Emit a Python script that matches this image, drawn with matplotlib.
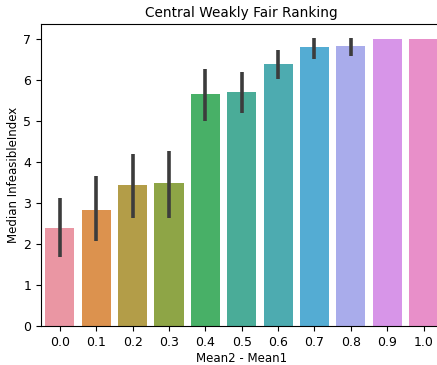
import matplotlib
matplotlib.use("Agg")
import matplotlib.pyplot as plt
import seaborn as sns

# Median infeasible index per mean gap, with 95% CI bounds
gaps = ["0.0", "0.1", "0.2", "0.3", "0.4", "0.5", "0.6", "0.7", "0.8", "0.9", "1.0"]
medians = [2.39, 2.83, 3.43, 3.50, 5.65, 5.70, 6.40, 6.80, 6.83, 7.00, 7.00]
ci_low = [1.68, 2.08, 2.63, 2.63, 5.00, 5.20, 6.03, 6.52, 6.58, 7.00, 7.00]
ci_high = [3.13, 3.65, 4.20, 4.27, 6.28, 6.20, 6.73, 7.02, 7.04, 7.00, 7.00]

# seaborn's barplot palette for many categories: husl at l=.7, desaturated
colors = [sns.desaturate(c, 0.75) for c in sns.husl_palette(len(gaps), l=0.7)]

fig = plt.figure(figsize=(4.37, 3.65), dpi=100)
# axes run past the right edge of the figure, as in the saved notebook output
ax = fig.add_axes([41 / 437, 39 / 365, 401.5 / 437, 302 / 365])

x = list(range(len(gaps)))
ax.bar(x, medians, width=0.8, color=colors)
ax.vlines(x, ci_low, ci_high, color="#3c3c3c", lw=2.6)

ax.set_xlim(-0.52, len(gaps) - 0.48)
ax.set_ylim(0, 7.37)
ax.set_xticks(x)
ax.set_xticklabels(gaps)
ax.set_yticks(range(8))
ax.tick_params(labelsize=9)
ax.set_xlabel("Mean2 - Mean1", fontsize=8.5, labelpad=2)
ax.set_ylabel("Median InfeasibleIndex", fontsize=8.5, labelpad=2)
ax.set_title("Central Weakly Fair Ranking", fontsize=9.8, pad=5)

fig.savefig("out.png", dpi=100)
